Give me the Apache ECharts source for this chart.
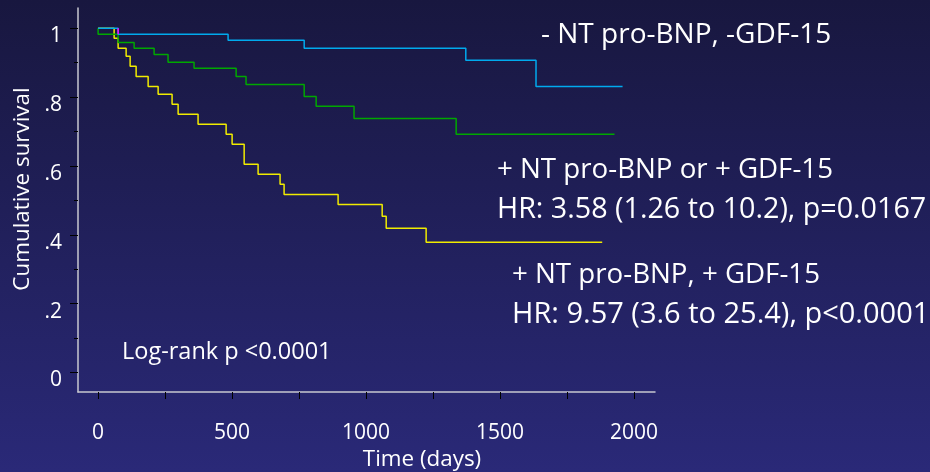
<!DOCTYPE html>
<html>
<head>
<meta charset="utf-8">
<script src="https://cdn.jsdelivr.net/npm/echarts@6/dist/echarts.min.js"></script>
<style>
html,body{margin:0;padding:0;}
body{width:930px;height:472px;background:linear-gradient(to bottom,#18173f 0%,#2a2978 100%);}
#chart{width:930px;height:472px;}
</style>
</head>
<body>
<div id="chart"></div>
<script>
// Kaplan-Meier step data (time in days, cumulative survival)
const blueTimes = [0, 74.7, 485, 769, 1372, 1634, 1957];
const blueSurv  = [1, 0.9825, 0.965, 0.942, 0.907, 0.831, 0.831];

const greenTimes = [0, 0, 74.7, 134.4, 209, 261, 358, 515, 552, 769, 813.6, 955, 1336, 1927];
const greenSurv  = [1, 0.9825, 0.959, 0.942, 0.924, 0.901, 0.8836, 0.860, 0.837, 0.802, 0.7733, 0.738, 0.692, 0.692];

const yellowTimes = [0, 59.8, 74.7, 104.6, 119.5, 141.9, 186.7, 224, 276, 298.6, 373, 477.7, 500, 545, 597, 679, 694, 895.5, 1060, 1075, 1224, 1881];
const yellowSurv  = [1, 0.971, 0.942, 0.9185, 0.8895, 0.860, 0.831, 0.808, 0.779, 0.750, 0.721, 0.692, 0.663, 0.605, 0.5756, 0.5465, 0.517, 0.488, 0.4535, 0.4186, 0.378, 0.378];

const overlapTimes = [74.7, 74.7];
const overlapSurv  = [1, 0.9825];

const xTickValues  = [0, 250, 500, 750, 1000, 1250, 1500, 1750, 2000];
const xLabelValues = [0, 500, 1000, 1500, 2000];
const yMajorValues = [0, 0.2, 0.4, 0.6, 0.8, 1];
const yMinorValues = [0, 0.1, 0.2, 0.3, 0.4, 0.5, 0.6, 0.7, 0.8, 0.9, 1];
const yLabelText   = {0: '0', 0.2: '.2', 0.4: '.4', 0.6: '.6', 0.8: '.8', 1: '1'};

const texts = {
  neg: '- NT pro-BNP, -GDF-15',
  oneA: '+ NT pro-BNP or + GDF-15',
  oneB: 'HR: 3.58 (1.26 to 10.2), p=0.0167',
  twoA: '+ NT pro-BNP, + GDF-15',
  twoB: 'HR: 9.57 (3.6 to 25.4), p<0.0001',
  logrank: 'Log-rank p <0.0001',
  yName: 'Cumulative survival',
  xName: 'Time (days)'
};

const zip = (a, b) => a.map((v, i) => [v, b[i]]);
const FONT = '"Open Sans"';
const chart = echarts.init(document.getElementById('chart'), null, {renderer: 'canvas'});

const stepSeries = (data, color, z) => ({
  type: 'line', step: 'end', data, showSymbol: false, symbol: 'none',
  lineStyle: {color, width: 1.5}, z, animation: false, silent: true
});

const XMIN = -75, XMAX = 2078, YMIN = -0.057, YMAX = 1.059;

chart.setOption({
  backgroundColor: 'transparent',
  animation: false,
  grid: {left: 78, top: 8, right: 275, bottom: 80, containLabel: false},
  xAxis: {
    type: 'value', min: XMIN, max: XMAX,
    axisLine: {show: true, onZero: false, lineStyle: {color: '#c8c8d0', width: 1.5}},
    axisTick: {show: true, customValues: xTickValues, length: 7, lineStyle: {color: '#000', width: 1}},
    axisLabel: {show: true, customValues: xLabelValues, margin: 31, color: '#ffffff', fontFamily: FONT, fontSize: 21,
      formatter: v => String(v)},
    splitLine: {show: false}
  },
  yAxis: [{
    type: 'value', min: YMIN, max: YMAX,
    axisLine: {show: true, onZero: false, lineStyle: {color: '#c8c8d0', width: 1.5}},
    axisTick: {show: true, customValues: yMajorValues, length: 8, lineStyle: {color: '#000', width: 1}},
    axisLabel: {show: true, customValues: yMajorValues, margin: 16, color: '#ffffff', fontFamily: FONT, fontSize: 21,
      formatter: v => '{a|' + (yLabelText[Math.round(v * 10) / 10] ?? '') + '}',
      rich: {a: {color: '#ffffff', fontFamily: FONT, fontSize: 21, padding: [16, 0, 0, 0]}}},
    splitLine: {show: false}
  }, {
    type: 'value', min: YMIN, max: YMAX, position: 'left',
    axisLine: {show: false, onZero: false},
    axisTick: {show: true, customValues: yMinorValues, length: 4, lineStyle: {color: '#000', width: 1}},
    axisLabel: {show: false},
    splitLine: {show: false}
  }],
  series: [
    stepSeries(zip(yellowTimes, yellowSurv), '#f0ec00', 2),
    stepSeries(zip(greenTimes, greenSurv), '#00a800', 3),
    stepSeries(zip(blueTimes, blueSurv), '#00aaee', 4),
    stepSeries(zip(overlapTimes, overlapSurv), '#ff00ff', 5)
  ],
  graphic: [
    {type: 'text', x: 541, y: 35, style: {text: texts.neg, fill: '#fff', font: '28px ' + FONT, textVerticalAlign: 'middle'}},
    {type: 'text', x: 497, y: 170, style: {text: texts.oneA, fill: '#fff', font: '27.7px ' + FONT, textVerticalAlign: 'middle'}},
    {type: 'text', x: 497, y: 210, style: {text: texts.oneB, fill: '#fff', font: '28.7px ' + FONT, textVerticalAlign: 'middle'}},
    {type: 'text', x: 512, y: 275, style: {text: texts.twoA, fill: '#fff', font: '27.7px ' + FONT, textVerticalAlign: 'middle'}},
    {type: 'text', x: 512, y: 315, style: {text: texts.twoB, fill: '#fff', font: '29px ' + FONT, textVerticalAlign: 'middle'}},
    {type: 'text', x: 122, y: 352, style: {text: texts.logrank, fill: '#fff', font: '23.5px ' + FONT, textVerticalAlign: 'middle'}},
    {type: 'text', x: 23, y: 189, rotation: Math.PI / 2, style: {text: texts.yName, fill: '#fff', font: '22.4px ' + FONT, textAlign: 'center', textVerticalAlign: 'middle'}},
    {type: 'text', x: 422, y: 460, style: {text: texts.xName, fill: '#fff', font: '22.4px ' + FONT, textAlign: 'center', textVerticalAlign: 'middle'}}
  ]
});
</script>
</body>
</html>
